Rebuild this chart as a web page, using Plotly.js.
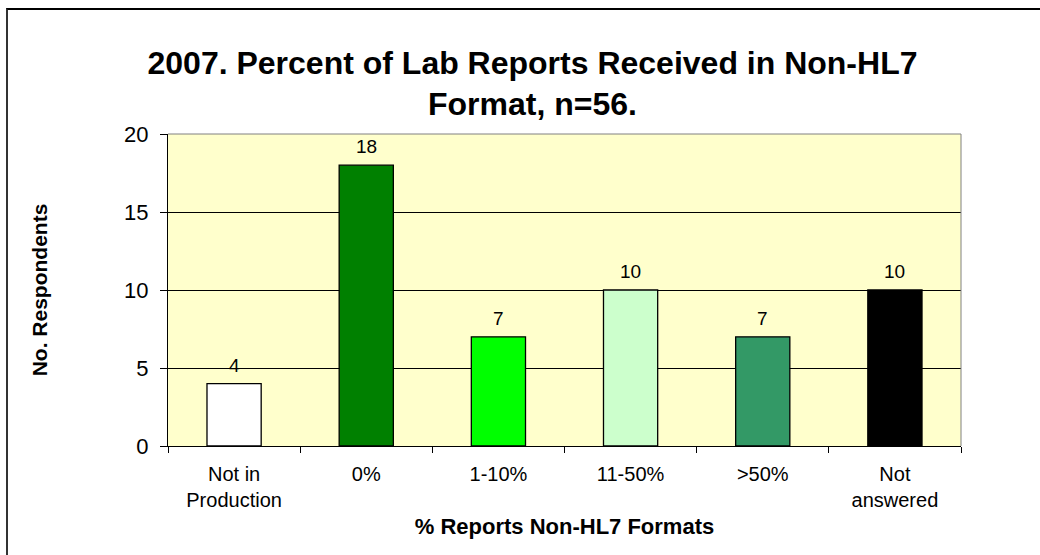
<!DOCTYPE html>
<html>
<head>
<meta charset="utf-8">
<script src="https://cdn.plot.ly/plotly-3.0.1.min.js"></script>
<style>
  body { margin: 0; background: #fff; }
  #wrap { position: relative; width: 1040px; height: 555px; overflow: hidden; }
  #chart { width: 1040px; height: 555px; }
  #frame { position: absolute; left: 6px; top: 8px; width: 1040px; height: 560px;
           border-top: 2px solid #000; border-left: 2px solid #333; pointer-events: none; }
</style>
</head>
<body>
<div id="wrap">
  <div id="chart"></div>
  <div id="frame"></div>
</div>
<script>
const categories = ["Not in<br>Production", "0%", "1-10%", "11-50%", ">50%", "Not<br>answered"];
const respondents = [4, 18, 7, 10, 7, 10];
const barColors = ["#FFFFFF", "#008000", "#00FF00", "#CCFFCC", "#339966", "#000000"];
const yTicks = [0, 5, 10, 15, 20];

const font = "Liberation Sans, Arial, sans-serif";

const trace = {
  type: "bar",
  x: categories,
  y: respondents,
  marker: { color: barColors, line: { color: "#000", width: 1.3 } },
  hoverinfo: "x+y"
};

const labels = categories.map((c, i) => ({
  x: c, y: respondents[i], xref: "x", yref: "y",
  text: String(respondents[i]), showarrow: false,
  yanchor: "bottom", yshift: 6,
  font: { family: font, size: 19, color: "#000" }
}));

const layout = {
  width: 1040, height: 555,
  margin: { l: 168, r: 79, t: 134, b: 109 },
  paper_bgcolor: "#fff",
  plot_bgcolor: "#FFFFCC",
  bargap: 0.59,
  showlegend: false,
  title: {
    text: "<b>2007. Percent of Lab Reports Received in Non-HL7<br>Format, n=56.</b>",
    font: { family: font, size: 32, color: "#000" },
    x: 0.512, xanchor: "center", y: 0.867, yanchor: "middle"
  },
  xaxis: {
    type: "category",
    tickson: "boundaries",
    ticks: "outside", ticklen: 6, tickcolor: "#000", tickwidth: 1,
    ticklabelstandoff: 10,
    showline: true, linecolor: "#000", linewidth: 1,
    showgrid: false,
    tickfont: { family: font, size: 20, color: "#000" },
    title: { text: "<b>% Reports Non-HL7 Formats</b>", font: { family: font, size: 22, color: "#000" }, standoff: 8 }
  },
  yaxis: {
    range: [0, 20],
    tickvals: yTicks,
    ticks: "outside", ticklen: 7, tickcolor: "#000", tickwidth: 1,
    ticklabelstandoff: 7,
    showline: true, linecolor: "#000", linewidth: 1,
    showgrid: true, gridcolor: "#000", gridwidth: 1,
    zeroline: false,
    tickfont: { family: font, size: 22, color: "#000" },
    title: { text: "<b>No. Respondents</b>", font: { family: font, size: 21, color: "#000" }, standoff: 70 }
  },
  annotations: labels,
  shapes: [
    { type: "line", xref: "paper", yref: "paper", x0: 1, x1: 1, y0: 0, y1: 1, line: { color: "#808080", width: 1 } },
    { type: "line", xref: "paper", yref: "paper", x0: 0, x1: 1, y0: 1, y1: 1, line: { color: "#808080", width: 1 } }
  ]
};

Plotly.newPlot("chart", [trace], layout, { displayModeBar: false, staticPlot: true });
</script>
</body>
</html>
